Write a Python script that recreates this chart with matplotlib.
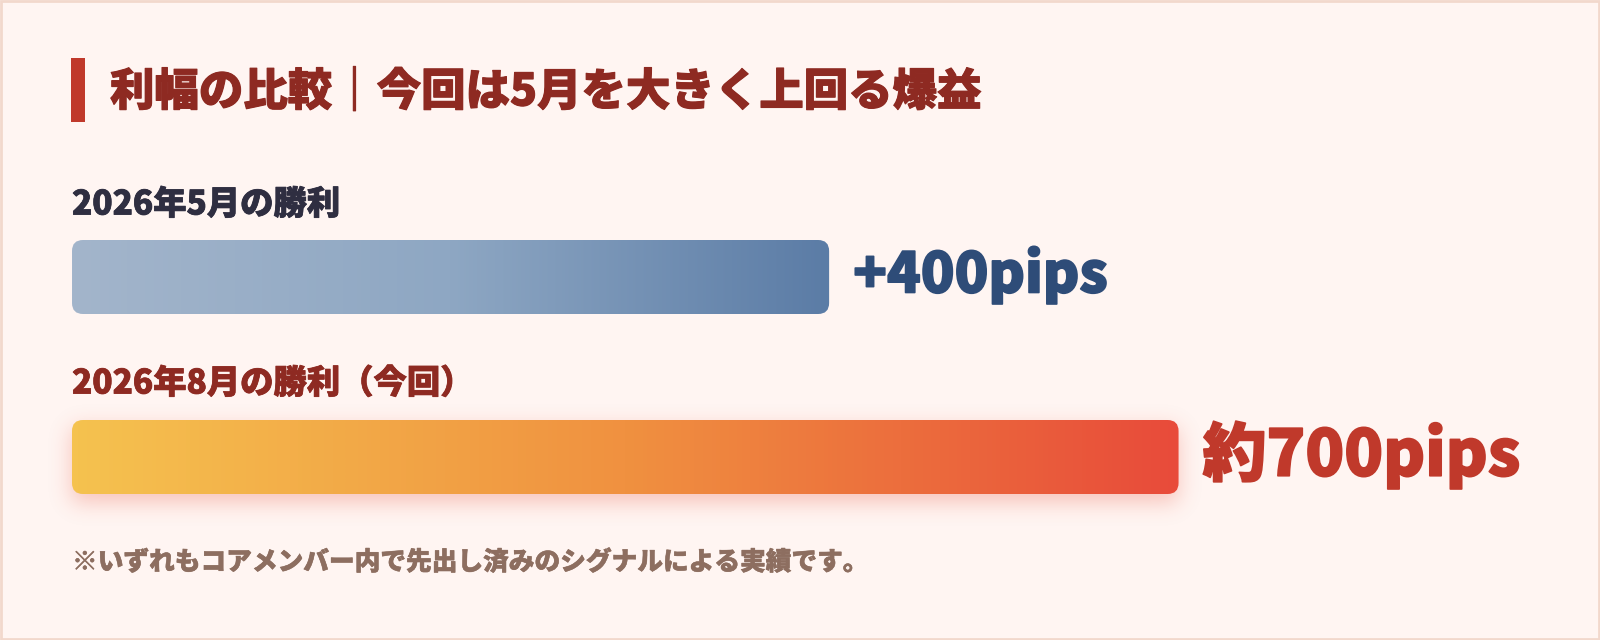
import numpy as np
import matplotlib
matplotlib.use("Agg")
import matplotlib.pyplot as plt
import matplotlib.patheffects as pe
from matplotlib.patches import FancyBboxPatch, Rectangle
from matplotlib.colors import LinearSegmentedColormap

plt.rcParams['font.family'] = ['Noto Sans CJK JP', 'DejaVu Sans']

# ---- data ----
title = "利幅の比較｜今回は5月を大きく上回る爆益"
labels = ["2026年5月の勝利", "2026年8月の勝利（今回）"]
values = [400, 700]
value_texts = ["+400pips", "約700pips"]
bar_pct = [52.0, 76.0]          # bar length as % of the track
note = "※いずれもコアメンバー内で先出し済みのシグナルによる実績です。"

# ---- style ----
W, H = 1600, 640
BG = "#fff5f2"
BORDER = "#f2d8cc"
TITLE_C = "#8e2a22"
ACCENT = "#c0392b"
LABEL_C = ["#2f2e41", "#8e2a22"]
VALUE_C = ["#2e4c78", "#c0392b"]
VALUE_FS = [40, 46]
NOTE_C = "#8d6e60"
grads = [
    ["#a3b5cb", "#8ea7c3", "#5b7ca6"],
    ["#f5c24f", "#f09140", "#e84b3a"],
]
track_left, track_w = 72, 1456
row_label_y = [204, 383]
row_bar_top = [240, 420]
bar_h = 74
radius = 11


def heavy(color, lw=1.0):
    # thicken the bold face a little, the reference uses a black weight
    return [pe.withStroke(linewidth=lw, foreground=color)]


fig = plt.figure(figsize=(W / 100, H / 100), dpi=100, facecolor=BG)
ax = fig.add_axes([0, 0, 1, 1])
ax.set_xlim(0, W)
ax.set_ylim(H, 0)
ax.axis("off")

# border
ax.add_patch(Rectangle((1, 1), W - 2, H - 2, fill=False, ec=BORDER, lw=2))

# title + accent bar
ax.add_patch(Rectangle((71, 58), 14, 64, fc=ACCENT, ec="none"))
ax.text(110, 92, title, fontsize=32, fontweight="black", color=TITLE_C,
        va="center", ha="left", path_effects=heavy(TITLE_C, 0.8))

# bars axes: x in percent of the track, y in pixels
bx = fig.add_axes([track_left / W, 0, track_w / W, 1])
bx.set_xlim(0, 100)
bx.set_ylim(H, 0)
bx.axis("off")
bx.patch.set_alpha(0)
unit = track_w / 100.0

for i, (lab, pct) in enumerate(zip(labels, bar_pct)):
    top = row_bar_top[i]
    ax.text(track_left, row_label_y[i], lab, fontsize=24, fontweight="black",
            color=LABEL_C[i], va="center", ha="left", path_effects=heavy(LABEL_C[i], 0.6))

    # bar end in pixel coords, through the library transforms
    x_end_px = ax.transData.inverted().transform(bx.transData.transform((pct, top)))[0]

    if i == 1:
        # soft glow below the highlighted bar
        pad = 50
        x0, x1 = int(track_left - pad), int(x_end_px + pad)
        y0, y1 = int(top - pad), int(top + bar_h + pad + 10)
        mask = np.zeros((y1 - y0, x1 - x0))
        off = 8
        mask[pad + off:pad + off + bar_h, pad:pad + int(x_end_px - track_left)] = 1.0
        sig = 11
        k = np.exp(-0.5 * (np.arange(-3 * sig, 3 * sig + 1) / sig) ** 2)
        k /= k.sum()
        mask = np.apply_along_axis(lambda r: np.convolve(r, k, mode="same"), 1, mask)
        mask = np.apply_along_axis(lambda c: np.convolve(c, k, mode="same"), 0, mask)
        rgba = np.zeros(mask.shape + (4,))
        rgba[..., 0], rgba[..., 1], rgba[..., 2] = 0.91, 0.33, 0.25
        rgba[..., 3] = mask * 0.32
        ax.imshow(rgba, extent=(x0, x1, y1, y0), origin="upper",
                  interpolation="bilinear", zorder=1, aspect="auto")
        ax.set_xlim(0, W)
        ax.set_ylim(H, 0)

    patch = FancyBboxPatch((0, top), pct, bar_h,
                           boxstyle=f"round,pad=0,rounding_size={radius / unit}",
                           mutation_aspect=unit, fc="none", ec="none")
    bx.add_patch(patch)
    cmap = LinearSegmentedColormap.from_list(f"g{i}", grads[i])
    im = bx.imshow(np.linspace(0, 1, 256)[None, :], cmap=cmap, aspect="auto",
                   extent=(0, pct, top + bar_h, top), interpolation="bilinear")
    im.set_clip_path(patch)

    ax.text(x_end_px + 24, top + bar_h / 2 - 2, value_texts[i], fontsize=VALUE_FS[i],
            fontweight="black", color=VALUE_C[i], va="center", ha="left", zorder=3,
            path_effects=heavy(VALUE_C[i], 1.2))

bx.set_xlim(0, 100)
bx.set_ylim(H, 0)

ax.text(track_left, 562, note, fontsize=18.5, fontweight="black", color=NOTE_C,
        va="center", ha="left", path_effects=heavy(NOTE_C, 0.4))

fig.savefig("out.png", dpi=100, facecolor=BG)
